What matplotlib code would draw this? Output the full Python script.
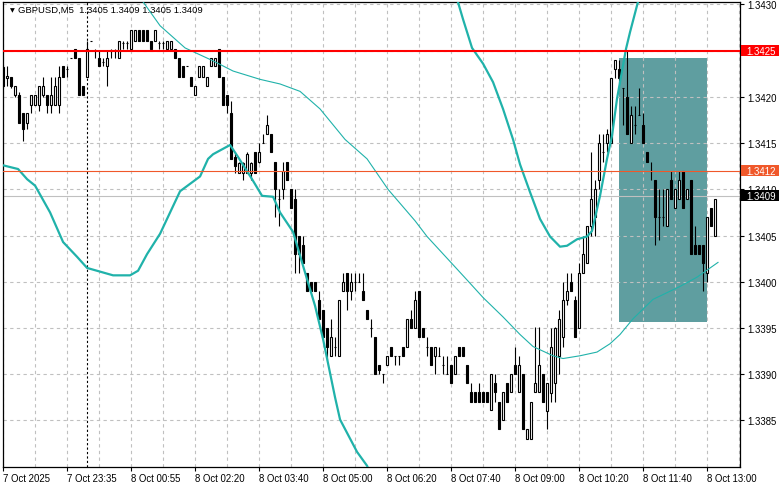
import matplotlib
matplotlib.use("Agg")
import matplotlib.pyplot as plt
import matplotlib.transforms as mtransforms
from matplotlib.patches import Rectangle
import numpy as np

symbol = "GBPUSD,M5"

# M5 bars, 7 Oct 22:15 .. 8 Oct 13:10
opens = [1.34232, 1.34220, 1.34222, 1.34202, 1.34202, 1.34183, 1.34172, 1.34191, 1.34191, 1.34191,
         1.34202, 1.34202, 1.34191, 1.34191, 1.34191, 1.34233, 1.34230, 1.34242, 1.34252, 1.34242,
         1.34212, 1.34222, 1.34261, 1.34250, 1.34242, 1.34238, 1.34233, 1.34250, 1.34250, 1.34242,
         1.34258, 1.34258, 1.34252, 1.34261, 1.34272, 1.34272, 1.34272, 1.34261, 1.34261, 1.34258,
         1.34258, 1.34252, 1.34252, 1.34252, 1.34242, 1.34233, 1.34233, 1.34222, 1.34202, 1.34222,
         1.34222, 1.34212, 1.34233, 1.34233, 1.34252, 1.34222, 1.34202, 1.34183, 1.34135, 1.34118,
         1.34118, 1.34118, 1.34118, 1.34140, 1.34130, 1.34150, 1.34160, 1.34160, 1.34130, 1.34090,
         1.34100, 1.34130, 1.34100, 1.34090, 1.34050, 1.34040, 1.34010, 1.34000, 1.34000, 1.33980,
         1.33970, 1.33950, 1.33920, 1.33930, 1.33920, 1.33990, 1.34010, 1.33990, 1.34000, 1.34000,
         1.33990, 1.33970, 1.33950, 1.33940, 1.33910, 1.33900, 1.33910, 1.33930, 1.33920, 1.33920,
         1.33930, 1.33930, 1.33960, 1.33950, 1.33990, 1.33950, 1.33930, 1.33930, 1.33920, 1.33920,
         1.33910, 1.33900, 1.33910, 1.33900, 1.33930, 1.33930, 1.33910, 1.33881, 1.33881, 1.33881,
         1.33881, 1.33881, 1.33861, 1.33891, 1.33870, 1.33851, 1.33891, 1.33881, 1.33910, 1.33881,
         1.33900, 1.33830, 1.33830, 1.33881, 1.33881, 1.33900, 1.33860, 1.33880, 1.33891, 1.33920,
         1.33940, 1.33980, 1.34000, 1.33980, 1.33950, 1.34010, 1.34020, 1.34060, 1.34070, 1.34110,
         1.34140, 1.34150, 1.34150, 1.34230, 1.34230, 1.34210, 1.34200, 1.34150, 1.34170, 1.34180,
         1.34170, 1.34140, 1.34120, 1.34110, 1.34070, 1.34070, 1.34060, 1.34110, 1.34080, 1.34090,
         1.34120, 1.34090, 1.34110, 1.34040, 1.34040, 1.34040, 1.34010, 1.34080, 1.34050]
highs = [1.34235, 1.34233, 1.34222, 1.34212, 1.34205, 1.34183, 1.34183, 1.34202, 1.34202, 1.34212,
         1.34222, 1.34202, 1.34222, 1.34222, 1.34233, 1.34233, 1.34233, 1.34242, 1.34252, 1.34242,
         1.34212, 1.34261, 1.34261, 1.34252, 1.34250, 1.34242, 1.34250, 1.34252, 1.34252, 1.34261,
         1.34261, 1.34261, 1.34272, 1.34272, 1.34272, 1.34272, 1.34272, 1.34261, 1.34272, 1.34261,
         1.34261, 1.34261, 1.34261, 1.34252, 1.34242, 1.34233, 1.34233, 1.34222, 1.34212, 1.34233,
         1.34233, 1.34222, 1.34242, 1.34242, 1.34252, 1.34222, 1.34202, 1.34196, 1.34140, 1.34130,
         1.34130, 1.34140, 1.34130, 1.34140, 1.34150, 1.34160, 1.34180, 1.34160, 1.34130, 1.34100,
         1.34130, 1.34130, 1.34100, 1.34100, 1.34050, 1.34050, 1.34010, 1.34000, 1.34000, 1.33990,
         1.33970, 1.33950, 1.33960, 1.33940, 1.33980, 1.34010, 1.34010, 1.34010, 1.34010, 1.34010,
         1.34010, 1.33970, 1.33960, 1.33940, 1.33910, 1.33900, 1.33920, 1.33930, 1.33920, 1.33920,
         1.33930, 1.33960, 1.33970, 1.33990, 1.33990, 1.33950, 1.33940, 1.33930, 1.33930, 1.33930,
         1.33920, 1.33920, 1.33910, 1.33920, 1.33930, 1.33930, 1.33910, 1.33891, 1.33881, 1.33891,
         1.33881, 1.33881, 1.33900, 1.33900, 1.33870, 1.33881, 1.33891, 1.33900, 1.33930, 1.33920,
         1.33900, 1.33841, 1.33870, 1.33951, 1.33951, 1.33900, 1.33891, 1.33950, 1.33951, 1.33970,
         1.34000, 1.34010, 1.34010, 1.33985, 1.34020, 1.34050, 1.34060, 1.34140, 1.34110, 1.34160,
         1.34160, 1.34165, 1.34220, 1.34240, 1.34240, 1.34210, 1.34250, 1.34190, 1.34190, 1.34210,
         1.34183, 1.34140, 1.34130, 1.34110, 1.34100, 1.34100, 1.34100, 1.34120, 1.34100, 1.34120,
         1.34120, 1.34100, 1.34110, 1.34060, 1.34040, 1.34040, 1.34070, 1.34080, 1.34090]
lows = [1.34210, 1.34212, 1.34210, 1.34200, 1.34172, 1.34152, 1.34165, 1.34183, 1.34191, 1.34185,
        1.34200, 1.34183, 1.34183, 1.34191, 1.34183, 1.34222, 1.34222, 1.34242, 1.34242, 1.34202,
        1.34202, 1.34222, 1.34261, 1.34242, 1.34233, 1.34233, 1.34212, 1.34242, 1.34242, 1.34242,
        1.34252, 1.34252, 1.34252, 1.34261, 1.34261, 1.34261, 1.34261, 1.34252, 1.34261, 1.34252,
        1.34252, 1.34252, 1.34252, 1.34242, 1.34222, 1.34222, 1.34233, 1.34212, 1.34202, 1.34222,
        1.34222, 1.34212, 1.34233, 1.34233, 1.34222, 1.34191, 1.34183, 1.34133, 1.34118, 1.34118,
        1.34110, 1.34118, 1.34110, 1.34118, 1.34128, 1.34150, 1.34160, 1.34140, 1.34070, 1.34060,
        1.34090, 1.34110, 1.34080, 1.34010, 1.34010, 1.34020, 1.33990, 1.33990, 1.33990, 1.33960,
        1.33940, 1.33915, 1.33920, 1.33920, 1.33920, 1.33990, 1.33970, 1.33980, 1.33990, 1.34000,
        1.33980, 1.33960, 1.33940, 1.33900, 1.33900, 1.33890, 1.33910, 1.33920, 1.33910, 1.33910,
        1.33920, 1.33930, 1.33950, 1.33950, 1.33940, 1.33940, 1.33920, 1.33910, 1.33900, 1.33920,
        1.33900, 1.33900, 1.33890, 1.33900, 1.33920, 1.33920, 1.33890, 1.33870, 1.33870, 1.33870,
        1.33870, 1.33870, 1.33861, 1.33870, 1.33841, 1.33851, 1.33870, 1.33881, 1.33900, 1.33881,
        1.33841, 1.33830, 1.33830, 1.33881, 1.33881, 1.33870, 1.33841, 1.33870, 1.33870, 1.33900,
        1.33930, 1.33975, 1.33990, 1.33940, 1.33950, 1.34010, 1.34020, 1.34050, 1.34050, 1.34100,
        1.34130, 1.34140, 1.34150, 1.34220, 1.34215, 1.34170, 1.34160, 1.34150, 1.34160, 1.34180,
        1.34150, 1.34130, 1.34110, 1.34040, 1.34045, 1.34060, 1.34060, 1.34090, 1.34080, 1.34090,
        1.34080, 1.34090, 1.34030, 1.34030, 1.34030, 1.33990, 1.34000, 1.34060, 1.34050]
closes = [1.34212, 1.34223, 1.34212, 1.34212, 1.34172, 1.34165, 1.34183, 1.34202, 1.34202, 1.34212,
          1.34212, 1.34191, 1.34202, 1.34212, 1.34222, 1.34222, 1.34230, 1.34242, 1.34242, 1.34202,
          1.34202, 1.34252, 1.34261, 1.34250, 1.34233, 1.34238, 1.34242, 1.34250, 1.34250, 1.34261,
          1.34258, 1.34258, 1.34272, 1.34272, 1.34261, 1.34261, 1.34261, 1.34252, 1.34272, 1.34258,
          1.34258, 1.34261, 1.34261, 1.34242, 1.34222, 1.34222, 1.34233, 1.34212, 1.34212, 1.34233,
          1.34233, 1.34222, 1.34242, 1.34242, 1.34222, 1.34191, 1.34191, 1.34133, 1.34125, 1.34128,
          1.34128, 1.34138, 1.34128, 1.34118, 1.34140, 1.34150, 1.34170, 1.34140, 1.34100, 1.34090,
          1.34120, 1.34110, 1.34080, 1.34030, 1.34030, 1.34020, 1.33990, 1.33990, 1.33990, 1.33960,
          1.33940, 1.33930, 1.33940, 1.33930, 1.33980, 1.34000, 1.33990, 1.34000, 1.34000, 1.34000,
          1.33980, 1.33960, 1.33950, 1.33900, 1.33905, 1.33900, 1.33920, 1.33920, 1.33920, 1.33920,
          1.33920, 1.33960, 1.33950, 1.33980, 1.33940, 1.33940, 1.33930, 1.33910, 1.33930, 1.33920,
          1.33910, 1.33900, 1.33890, 1.33920, 1.33920, 1.33920, 1.33890, 1.33870, 1.33870, 1.33870,
          1.33870, 1.33870, 1.33900, 1.33881, 1.33841, 1.33881, 1.33870, 1.33900, 1.33900, 1.33910,
          1.33841, 1.33841, 1.33870, 1.33891, 1.33910, 1.33870, 1.33891, 1.33930, 1.33950, 1.33960,
          1.33980, 1.33990, 1.33990, 1.33940, 1.34010, 1.34030, 1.34060, 1.34090, 1.34100, 1.34150,
          1.34140, 1.34160, 1.34220, 1.34240, 1.34220, 1.34210, 1.34160, 1.34180, 1.34170, 1.34180,
          1.34150, 1.34130, 1.34120, 1.34070, 1.34070, 1.34070, 1.34100, 1.34090, 1.34100, 1.34110,
          1.34080, 1.34100, 1.34030, 1.34030, 1.34030, 1.34020, 1.34070, 1.34060, 1.34090]

time_labels = ["7 Oct 2025", "7 Oct 23:35", "8 Oct 00:55", "8 Oct 02:20", "8 Oct 03:40",
               "8 Oct 05:00", "8 Oct 06:20", "8 Oct 07:40", "8 Oct 09:00", "8 Oct 10:20",
               "8 Oct 11:40", "8 Oct 13:00"]

# slow moving average (thin line): bar position, price
ma_bar = [33.0, 39.25, 45.5, 52.5, 57.5, 64.25, 69.25, 74.25, 79.25, 85.5, 91, 96.25, 103, 106,
          111.75, 116, 120, 125, 129.25, 132.5, 137.5, 140, 144.25, 148.5, 151.75, 154.25, 157.5,
          162.5, 169.25, 173.5, 178.75]
ma_val = [1.34315, 1.34277, 1.34253, 1.34239, 1.34228, 1.34219, 1.34214, 1.34206, 1.34187,
          1.34154, 1.34133, 1.34100, 1.34066, 1.34049, 1.34022, 1.34002, 1.33983, 1.33962, 1.33943,
          1.33930, 1.33920, 1.33917, 1.33920, 1.33924, 1.33933, 1.33943, 1.33960, 1.33981, 1.33995,
          1.34005, 1.34021]

# band lines (thick)
band1_bar = [0, 3.75, 6, 8, 11.75, 15, 18.5, 21, 24.25, 27.5, 31.75, 33.75, 36, 39.25, 41.75,
             44.25, 46.75, 49.25, 51.25, 52.5, 56.75, 58.75, 62.25, 64.75, 67.5, 69.25, 72.5, 75.5,
             78, 80, 83, 84.25, 88.5, 91, 93.5]
band1_val = [1.34126, 1.34122, 1.34111, 1.34104, 1.34075, 1.34043, 1.34027, 1.34015, 1.34011,
             1.34007, 1.34007, 1.34012, 1.34030, 1.34052, 1.34075, 1.34098, 1.34106, 1.34114,
             1.34133, 1.34138, 1.34148, 1.34135, 1.34111, 1.34093, 1.34092, 1.34075, 1.34054,
             1.34010, 1.33974, 1.33938, 1.33875, 1.33851, 1.33816, 1.33801, 1.33776]
band2_bar = [113, 113.5, 115, 117.25, 120, 122.5, 125, 127.5, 129.25, 131.75, 134.25, 136.75,
             139.25, 141, 143.5, 146, 147.25, 149.25, 151, 152.25, 153.5, 155.75, 156.75, 158.75,
             159.75]
band2_val = [1.34311, 1.34306, 1.34284, 1.34253, 1.34236, 1.34216, 1.34187, 1.34154, 1.34127,
             1.34097, 1.34068, 1.34049, 1.34038, 1.34039, 1.34046, 1.34049, 1.34055, 1.34093,
             1.34133, 1.34158, 1.34198, 1.34252, 1.34270, 1.34303, 1.34317]

resistance = 1.3425
level_mid = 1.3412
bid = 1.34093
separator_bar = 21
zone_bars = [154, 176]
zone_prices = [1.33957, 1.34242]

plt.rcParams['font.family'] = ['Liberation Sans', 'DejaVu Sans']
teal = '#20b2aa'
fs = 6.9
W, H = 781, 489
fig = plt.figure(figsize=(W / 100, H / 100), dpi=100)
ax = fig.add_axes([2.7 / W, (H - 467.7) / H, (740 - 2.7) / W, (467.7 - 2.7) / H])

o = np.array(opens)
h = np.array(highs)
l = np.array(lows)
c = np.array(closes)
x = np.arange(len(o))
up = c >= o

# shaded zone
ax.add_patch(Rectangle((zone_bars[0], zone_prices[0]), zone_bars[1] - zone_bars[0],
                       zone_prices[1] - zone_prices[0], facecolor='#5f9ea0', edgecolor='none',
                       zorder=0.5))

# candles
ax.vlines(x, l, h, color='black', lw=0.8, zorder=3)
bottom = np.minimum(o, c)
height = np.abs(c - o)
ax.bar(x[up], height[up], 0.6, bottom[up], facecolor='white', edgecolor='black', lw=0.8, zorder=4)
ax.bar(x[~up], height[~up], 0.6, bottom[~up], facecolor='black', edgecolor='black', lw=0.8, zorder=4)

# indicators
ax.plot(ma_bar, ma_val, color=teal, lw=0.8, zorder=5)
ax.plot(band1_bar, band1_val, color=teal, lw=1.6, zorder=5)
ax.plot(band2_bar, band2_val, color=teal, lw=1.6, zorder=5)

# horizontal levels and separator
ax.axhline(resistance, color='red', lw=1.5, zorder=6)
ax.axhline(level_mid, color='#f0582a', lw=0.8, zorder=6)
ax.axhline(bid, color='#c0c0c0', lw=0.8, zorder=2)
ax.axvline(separator_bar, color='black', lw=0.8, ls=(0, (2, 2)), zorder=2)

ax.set_xlim(-0.1, 184.25)
ax.set_ylim(1.33800, 1.34303)

# axes styling
ax.set_xticks(np.arange(0, 16 * len(time_labels), 16))
ax.set_xticklabels(time_labels)
ax.set_xticks(np.arange(8, 185, 16), minor=True)
for lab in ax.get_xticklabels():
    lab.set_ha('left')
ax.tick_params(axis='x', which='major', length=3, pad=1.5, labelsize=fs, direction='out')
ax.tick_params(axis='x', which='minor', length=0)
yt = np.arange(1.3385, 1.34301, 0.0005)
ax.set_yticks(yt)
ax.set_yticklabels([f"{v:.4f}" for v in yt])
ax.yaxis.tick_right()
ax.tick_params(axis='y', length=3, pad=2.5, labelsize=fs, direction='out')
ax.set_axisbelow('line')
ax.grid(True, which='both', color='#c0c0c0', lw=0.8, ls=(0, (3, 3)))
for s in ax.spines.values():
    s.set_color('black')
    s.set_linewidth(0.9)

# price labels on the right
trans = mtransforms.blended_transform_factory(ax.transAxes, ax.transData)
box_h = 11 * (1.34303 - 1.33800) / 465
for val, fc in [(resistance, 'red'), (level_mid, '#f0582a'), (bid, 'black')]:
    ax.add_patch(Rectangle((1.0015, val - box_h / 2), 38 / 737.3, box_h, transform=trans,
                           facecolor=fc, edgecolor='none', clip_on=False, zorder=10))
    ax.text(1.0 + 6.5 / 737.3, val, f"{val:.4f}", transform=trans, color='white',
            fontsize=fs, va='center', ha='left', zorder=11, clip_on=False)

# header
ax.text(0.0095, 0.983, "\u25bc", transform=ax.transAxes, fontsize=4.5, family='DejaVu Sans',
        va='center', ha='left')
ax.text(0.0208, 0.983, f"{symbol}  {o[-1]:.4f} {h[-1]:.4f} {l[-1]:.4f} {c[-1]:.4f}",
        transform=ax.transAxes, fontsize=6.8, va='center', ha='left', zorder=12)

fig.savefig("out.png", dpi=100)
